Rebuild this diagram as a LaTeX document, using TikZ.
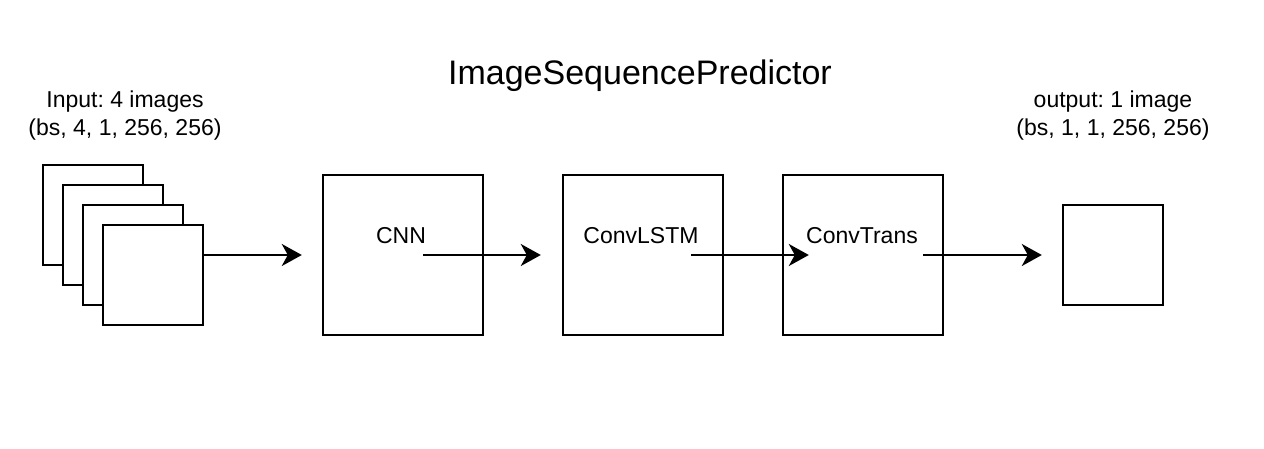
\documentclass[tikz,border=0pt]{standalone}
\usepackage{fontspec}
\setmainfont{Liberation Sans}
\usetikzlibrary{arrows.meta, positioning, calc}
\frenchspacing

\begin{document}
\begin{tikzpicture}[x=1pt, y=-1pt,
  box/.style={draw=black, line width=2.4pt, fill=white, minimum width=#1, minimum height=#1, inner sep=0pt},
  box/.default=160pt,
  lbl/.style={font=\fontsize{23}{28}\selectfont, align=center, inner sep=0pt},
  arr/.style={line width=2.4pt, -{Stealth[length=20pt, width=22pt, inset=6pt]}}]
  \useasboundingbox (0,0) rectangle (1264,448);

  % Title
  \node[font=\fontsize{34}{34}\selectfont, anchor=base, inner sep=0pt] (title) at (640,84) {ImageSequencePredictor};

  % Input stack of images
  \foreach \i/\x/\y in {1/93/215, 2/113/235, 3/133/255, 4/153/275} {
    \node[box=100pt] (in\i) at (\x,\y) {};
  }
  \node[lbl, anchor=north] (inlbl) at (125,90.5) {Input: 4 images\\(bs, 4, 1, 256, 256)};

  % Model blocks
  \node[box] (cnn) at (403,255) {};
  \node[box] (lstm) at (643,255) {};
  \node[box] (trans) at (863,255) {};
  \node[lbl, anchor=base] (cnnlbl) at (401,243) {CNN};
  \node[lbl, anchor=base] (lstmlbl) at (641,243) {ConvLSTM};
  \node[lbl, anchor=base] (translbl) at (862,243) {ConvTrans};

  % Output image
  \node[box=100pt] (out) at (1113,255) {};
  \node[lbl, anchor=north] (outlbl) at (1113,90.5) {output: 1 image\\(bs, 1, 1, 256, 256)};

  % Arrow ends
  \coordinate (e1) at ($(cnn.west)+(-20,0)$);
  \coordinate (s2) at ($(cnn.center)+(20,0)$);
  \coordinate (e2) at ($(lstm.west)+(-21,0)$);
  \coordinate (s3) at ($(lstm.center)+(48,0)$);
  \coordinate (e3) at ($(trans.west)+(27,0)$);
  \coordinate (s4) at ($(trans.center)+(60,0)$);
  \coordinate (e4) at ($(out.west)+(-20,0)$);

  % Arrows
  \draw[arr] (in4.east |- cnn.center) -- (e1);
  \draw[arr] (s2) -- (e2);
  \draw[arr] (s3) -- (e3);
  \draw[arr] (s4) -- (e4);
\end{tikzpicture}
\end{document}
